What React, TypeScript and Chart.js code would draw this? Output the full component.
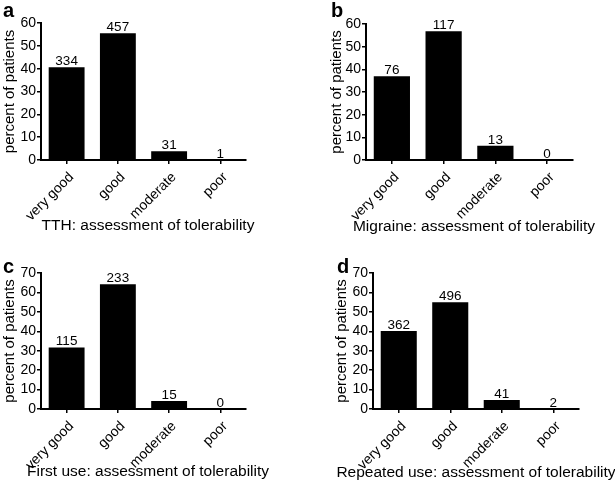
import React, { useEffect, useRef } from "react";
import { Chart, registerables } from "chart.js";

Chart.register(...registerables);

const categories = ["very good", "good", "moderate", "poor"];

const tthPercent = [40.6, 55.5, 3.8, 0.1];
const tthCounts = [334, 457, 31, 1];

const migrainePercent = [36.9, 56.8, 6.3, 0];
const migraineCounts = [76, 117, 13, 0];

const firstUsePercent = [31.7, 64.2, 4.1, 0];
const firstUseCounts = [115, 233, 15, 0];

const repeatedPercent = [40.2, 55.0, 4.6, 0.2];
const repeatedCounts = [362, 496, 41, 2];

const yMaxTop = 60;
const yMaxBottom = 70;
const yStep = 10;

const yAxisTitle = "percent of patients";

const FONT = '"Liberation Sans", Arial, Helvetica, sans-serif';

type Geo = {
  left: number;
  top: number;
  width: number;
  height: number;
  padLeft: number;
  areaLeft: number;
  areaTop: number;
  areaRight: number;
  areaBottom: number;
  letterX: number;
  letterY: number;
  titleX: number;
  titleY: number;
};

type PanelProps = {
  letter: string;
  title: string;
  percent: number[];
  counts: number[];
  yMax: number;
  geo: Geo;
};

const valueLabels = {
  id: "valueLabels",
  afterDatasetsDraw(chart: any, _args: any, opts: any) {
    const ctx = chart.ctx;
    const meta = chart.getDatasetMeta(0);
    ctx.save();
    ctx.font = `13.5px ${FONT}`;
    ctx.fillStyle = "#000";
    ctx.textAlign = "center";
    ctx.textBaseline = "alphabetic";
    meta.data.forEach((el: any, i: number) => {
      ctx.fillText(String(opts.counts[i]), el.x, el.y - 2);
    });
    ctx.restore();
  },
};

const panelText = {
  id: "panelText",
  afterDraw(chart: any, _args: any, opts: any) {
    const ctx = chart.ctx;
    ctx.save();
    ctx.fillStyle = "#000";
    ctx.textBaseline = "alphabetic";
    ctx.font = `bold 20px ${FONT}`;
    ctx.textAlign = "left";
    ctx.fillText(opts.letter, opts.letterX, opts.letterY);
    ctx.font = `15.5px ${FONT}`;
    ctx.textAlign = "center";
    ctx.fillText(opts.title, opts.titleX, opts.titleY);
    ctx.restore();
  },
};

function Panel({ letter, title, percent, counts, yMax, geo }: PanelProps) {
  const ref = useRef<HTMLCanvasElement | null>(null);
  useEffect(() => {
    if (!ref.current) return;
    const chart = new Chart(ref.current, {
      type: "bar",
      data: {
        labels: categories,
        datasets: [
          {
            data: percent,
            backgroundColor: "#000",
            borderWidth: 0,
            categoryPercentage: 1,
            barPercentage: 0.7,
          },
        ],
      },
      options: {
        responsive: false,
        animation: false,
        devicePixelRatio: 1,
        layout: {
          padding: {
            left: geo.padLeft,
            top: geo.areaTop,
            right: geo.width - geo.areaRight,
            bottom: 0,
          },
        },
        plugins: {
          legend: { display: false },
          tooltip: { enabled: false },
          valueLabels: { counts },
          panelText: {
            letter,
            letterX: geo.letterX,
            letterY: geo.letterY,
            title,
            titleX: geo.titleX,
            titleY: geo.titleY,
          },
        } as any,
        scales: {
          x: {
            offset: true,
            grid: {
              display: true,
              offset: false,
              drawOnChartArea: false,
              drawTicks: true,
              tickLength: 4,
              color: "#000",
              lineWidth: 1.5,
            },
            border: { display: true, color: "#000", width: 2 },
            ticks: {
              color: "#000",
              font: { family: FONT, size: 14 },
              maxRotation: 45,
              minRotation: 45,
              autoSkip: false,
              padding: 5,
              labelOffset: 5,
            },
            title: { display: false },
            afterFit: (s: any) => {
              s.height = geo.height - geo.areaBottom;
            },
          },
          y: {
            min: 0,
            max: yMax,
            grid: {
              display: true,
              drawOnChartArea: false,
              drawTicks: true,
              tickLength: 4,
              color: "#000",
              lineWidth: 1.5,
            },
            border: { display: true, color: "#000", width: 2 },
            ticks: {
              stepSize: yStep,
              autoSkip: false,
              color: "#000",
              font: { family: FONT, size: 14 },
              padding: 1,
            },
            title: {
              display: true,
              text: yAxisTitle,
              color: "#000",
              font: { family: FONT, size: 15 },
              padding: { top: 1, bottom: 0 },
            },
            afterFit: (s: any) => {
              s.width = geo.areaLeft - geo.padLeft;
            },
          },
        },
      },
      plugins: [valueLabels, panelText],
    } as any);
    return () => chart.destroy();
  }, []);
  return (
    <canvas
      ref={ref}
      width={geo.width}
      height={geo.height}
      style={{
        position: "absolute",
        left: geo.left,
        top: geo.top,
        width: geo.width,
        height: geo.height,
      }}
    />
  );
}

const geoA: Geo = { left: 0, top: 0, width: 305, height: 240, padLeft: 0, areaLeft: 41, areaTop: 23, areaRight: 246, areaBottom: 160, letterX: 3, letterY: 17, titleX: 148, titleY: 230 };
const geoB: Geo = { left: 305, top: 0, width: 310, height: 240, padLeft: 22, areaLeft: 61, areaTop: 24, areaRight: 268, areaBottom: 160, letterX: 26, letterY: 17, titleX: 169, titleY: 231 };
const geoC: Geo = { left: 0, top: 240, width: 305, height: 242, padLeft: 0, areaLeft: 41, areaTop: 33, areaRight: 246, areaBottom: 169, letterX: 3, letterY: 33, titleX: 148, titleY: 236 };
const geoD: Geo = { left: 305, top: 240, width: 310, height: 242, padLeft: 27, areaLeft: 68, areaTop: 33, areaRight: 274, areaBottom: 169, letterX: 32, letterY: 33, titleX: 171, titleY: 237 };

export default function App() {
  return (
    <div
      style={{
        position: "absolute",
        left: 0,
        top: 0,
        width: 615,
        height: 482,
        background: "#fff",
        overflow: "hidden",
      }}
    >
      <Panel letter="a" title="TTH: assessment of tolerability" percent={tthPercent} counts={tthCounts} yMax={yMaxTop} geo={geoA} />
      <Panel letter="b" title="Migraine: assessment of tolerability" percent={migrainePercent} counts={migraineCounts} yMax={yMaxTop} geo={geoB} />
      <Panel letter="c" title="First use: assessment of tolerability" percent={firstUsePercent} counts={firstUseCounts} yMax={yMaxBottom} geo={geoC} />
      <Panel letter="d" title="Repeated use: assessment of tolerability" percent={repeatedPercent} counts={repeatedCounts} yMax={yMaxBottom} geo={geoD} />
    </div>
  );
}
